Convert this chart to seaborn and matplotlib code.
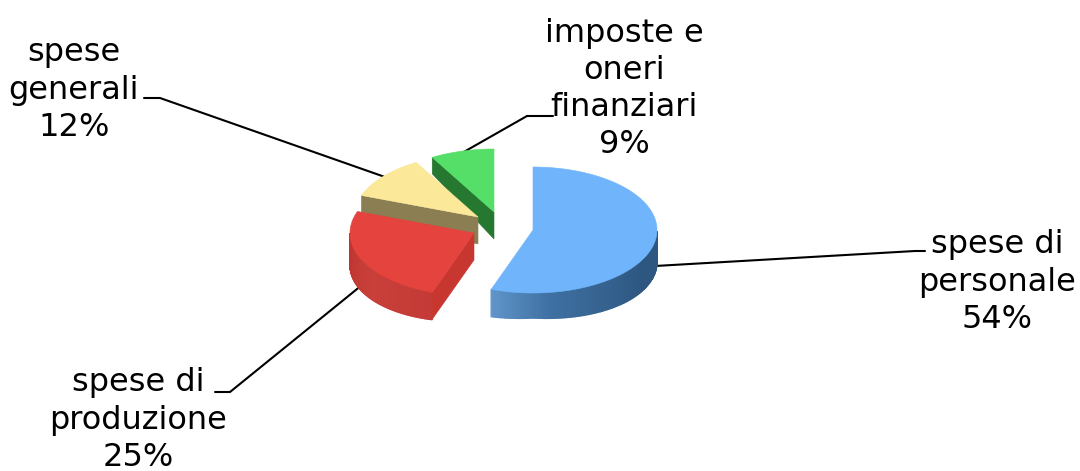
import numpy as np
import matplotlib
matplotlib.use("Agg")
import matplotlib.pyplot as plt
import seaborn as sns

categories = ["spese di\npersonale", "spese di\nproduzione", "spese\ngenerali", "imposte e\noneri\nfinanziari"]
values = [54, 25, 12, 9]

top_colors = ["#70B5FB", "#E4433E", "#FBE898", "#55DE68"]
cut_colors = [None, "#C7372F", "#8A7E52", "#26772F"]
wall_colors = [["#5F95C9", "#3F70A3", "#35628F", "#2D5680", "#2D5680"], ["#C43A36", "#C9403B", "#BE3430"],
               ["#8A7E52", "#8A7E52"], ["#26772F", "#26772F"]]
centres = [(533, 230), (474, 233), (478, 217), (494, 212)]
label_pos = [(997, 282), (138, 420), (74, 90), (624, 89)]
leaders = [([655, 915, 925], [266, 251, 251]), ([362, 230, 215], [285, 392, 392]),
           ([385, 160, 144], [177, 98, 98]), ([462, 527, 553], [153, 116, 116])]
RX, RY, DEPTH = 124, 63, 27

sns.set_theme(style="white")
plt.rcParams["font.family"] = ["DejaVu Sans"]
fig = plt.figure(figsize=(10.8, 4.71), dpi=100)
ax = fig.add_axes([0, 0, 1, 1])
ax.set_xlim(0, 1080)
ax.set_ylim(471, 0)
ax.axis("off")


def view_angle(t):
    """Clockwise sweep from 12 o'clock (deg) to the seen angle of the tilted pie."""
    r = np.radians(t)
    return 90 - t - (4.35 * (1 - np.cos(r)) / 2 - 4.09 * np.sin(r))


def rim(c, phi):
    p = np.radians(phi)
    return c[0] + RX * np.cos(p), c[1] - RY * np.sin(p)


def depth(phi):
    return DEPTH * (1 - 0.45 * np.clip(np.sin(np.radians(phi)), 0, None))


def wall_depth(phi):
    return 25 + 7 * np.abs(np.cos(np.radians(phi)))


for xs, ys in leaders:
    ax.plot(xs, ys, color="black", lw=1.5, zorder=1, solid_joinstyle="miter")

edges = np.cumsum([0] + values) / sum(values) * 360
order = [3, 2, 1, 0]
for z, i in enumerate(order):
    c = centres[i]
    t = np.linspace(edges[i], edges[i + 1], 160)
    phi = view_angle(t)
    x, y = rim(c, phi)
    zo = 2 + z
    # outer wall, lower half only
    idx = np.where(np.sin(np.radians(phi)) <= 0)[0]
    if len(idx) > 1 and i < 2:
        pal = sns.blend_palette(wall_colors[i], len(idx))
        order_idx = idx[::-1] if i == 0 else idx
        for k, (a, b) in enumerate(zip(order_idx[:-1], order_idx[1:])):
            da, db = wall_depth(phi[a]), wall_depth(phi[b])
            ax.fill([x[a], x[b], x[b], x[a]],
                    [y[a], y[b], y[b] + db, y[a] + da],
                    color=pal[k], lw=1.0, zorder=zo)
    # visible cut face, at the leading edge of the slice
    if cut_colors[i] is not None:
        px, py = (x[0], y[0])
        d_out = depth(phi[0])
        ax.fill([c[0], px, px, c[0]], [c[1], py, py + d_out, c[1] + DEPTH],
                color=cut_colors[i], lw=0.4, zorder=zo)
    ax.fill(np.r_[c[0], x], np.r_[c[1], y], color=top_colors[i], lw=0.4, zorder=zo + 0.5)

for cat, val, (lx, ly) in zip(categories, values, label_pos):
    lines = f"{cat}\n{val}%"
    ax.text(lx, ly, lines, ha="center", va="center", ma="center", fontsize=23, color="black",
            linespacing=1.25, zorder=10)

fig.savefig("out.png", dpi=100, facecolor="white")
